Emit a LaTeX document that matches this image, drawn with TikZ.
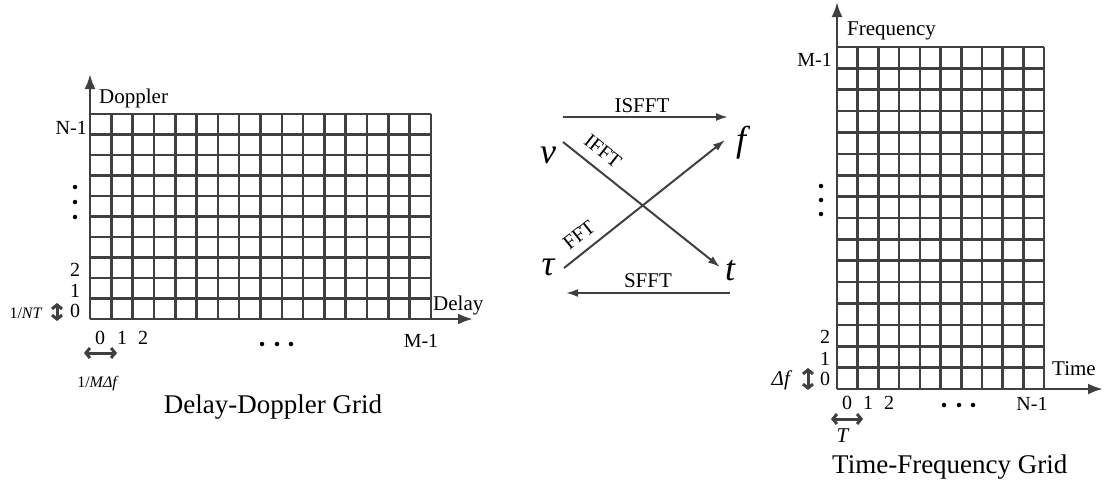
\documentclass[tikz,border=0pt]{standalone}
\usepackage{fontspec}
\setmainfont{Liberation Serif}
\usetikzlibrary{arrows.meta}
\definecolor{ln}{HTML}{404040}
\begin{document}
\begin{tikzpicture}[x=1pt,y=-1pt,
  gridln/.style={draw=ln,line width=2.6pt},
  axis/.style={draw=ln,line width=2.6pt,-{Latex[length=15pt,width=11pt]}},
  lbl/.style={font=\fontsize{21}{24}\selectfont,inner sep=0pt},
  num/.style={font=\fontsize{20}{24}\selectfont,inner sep=0pt},
  ttl/.style={font=\fontsize{27}{30}\selectfont,inner sep=0pt},
  greek/.style={font=\fontsize{36}{38}\selectfont\itshape,inner sep=0pt},
  tlbl/.style={font=\fontsize{20}{22}\selectfont,inner sep=0pt},
  tr/.style={draw=ln,line width=2pt,-{Latex[length=12pt,width=8pt]}},
  dbl/.style={draw=ln,line width=3pt,{Straight Barb[length=4pt,width=10pt]}-{Straight Barb[length=4pt,width=10pt]}},
  dot/.style={circle,fill=black,inner sep=0pt,minimum size=4.5pt},
  small/.style={font=\fontsize{16}{18}\selectfont,inner sep=0pt}]
\useasboundingbox (0,0) rectangle (1104,485);

% ---------- Left grid (Delay-Doppler) ----------
\foreach \i in {0,...,16} \draw[gridln] ({90+\i*21.3125},114) -- ({90+\i*21.3125},319);
\foreach \j in {0,...,10} \draw[gridln] (90,{114+\j*20.5}) -- (431,{114+\j*20.5});
\coordinate (Lo) at (90,319);
\coordinate (Lx) at (473,319);
\coordinate (Ly) at (90,74);
\draw[axis] (Lo) -- (Lx);
\draw[axis] (Lo) -- (Ly);

\node[lbl,anchor=base west] (dopl) at (99,103) {Doppler};
\node[lbl,anchor=base west] (dell) at (433,310) {Delay};
\node[num,anchor=base east] (ln1) at (87,134) {N-1};
\node[num,anchor=base] (l2) at (75,276) {2};
\node[num,anchor=base] (l1) at (75,297) {1};
\node[num,anchor=base] (l0) at (75,317) {0};
\node[dot] (lv1) at (75,187) {};
\node[dot] (lv2) at (75,202) {};
\node[dot] (lv3) at (75,217) {};
\node[small,anchor=base] (lnt) at (26,318) {1/\textit{NT}};
\coordinate (lda) at (57,303);
\coordinate (ldb) at (57,321);
\draw[dbl] (lda) -- (ldb);

\node[num,anchor=base] (b0) at (100,344) {0};
\node[num,anchor=base] (b1) at (122,344) {1};
\node[num,anchor=base] (b2) at (143,344) {2};
\node[dot] (lh1) at (262,344) {};
\node[dot] (lh2) at (277,344) {};
\node[dot] (lh3) at (291,344) {};
\node[num,anchor=base] (bm1) at (421,347) {M-1};
\coordinate (lha) at (84,353);
\coordinate (lhb) at (117,353);
\draw[dbl] (lha) -- (lhb);
\node[small,anchor=base] (lmdf) at (98,387) {1/\textit{MΔf}};
\node[ttl,anchor=base] (ddg) at (273,413) {Delay-Doppler Grid};

% ---------- Middle transforms ----------
\node[greek,anchor=base] (nu) at (548,163) {ν};
\node[greek,anchor=base] (fr) at (741,151) {f};
\node[greek,anchor=base] (tau) at (548,275) {τ};
\node[greek,anchor=base] (tt) at (730,280) {t};

\coordinate (isa) at (563,117);
\coordinate (isb) at (728,117);
\draw[tr] (isa) -- (isb);
\node[lbl,anchor=base] (isl) at (642,112) {ISFFT};

\coordinate (sfa) at (730,293);
\coordinate (sfb) at (566,293);
\draw[tr] (sfa) -- (sfb);
\node[lbl,anchor=base] (sfl) at (648,287) {SFFT};

\coordinate (ifa) at (563,142);
\coordinate (ifb) at (720,267);
\draw[tr] (ifa) -- (ifb);
\node[tlbl,rotate=-38.5] (ifl) at (603,151) {IFFT};

\coordinate (ffa) at (564,268);
\coordinate (ffb) at (725,140);
\draw[tr] (ffa) -- (ffb);
\node[tlbl,rotate=38.5] (ffl) at (579,235) {FFT};

% ---------- Right grid (Time-Frequency) ----------
\foreach \i in {0,...,10} \draw[gridln] ({837+\i*20.7},47) -- ({837+\i*20.7},389);
\foreach \j in {0,...,16} \draw[gridln] (837,{47+\j*21.375}) -- (1044,{47+\j*21.375});
\coordinate (Ro) at (837,389);
\coordinate (Rx) at (1103,389);
\coordinate (Ry) at (837,2);
\draw[axis] (Ro) -- (Rx);
\draw[axis] (Ro) -- (Ry);

\node[lbl,anchor=base west] (freq) at (847,35) {Frequency};
\node[lbl,anchor=base west] (time) at (1052,375) {Time};
\node[num,anchor=base east] (rm1) at (832,66) {M-1};
\node[num,anchor=base] (r2) at (825,343) {2};
\node[num,anchor=base] (r1) at (825,365) {1};
\node[num,anchor=base] (r0) at (825,385) {0};
\node[dot] (rv1) at (821,186) {};
\node[dot] (rv2) at (821,200) {};
\node[dot] (rv3) at (821,214) {};
\node[lbl,anchor=base] (rdf) at (782,385) {\textit{Δf}};
\coordinate (rda) at (808,368);
\coordinate (rdb) at (808,390);
\draw[dbl] (rda) -- (rdb);

\node[num,anchor=base] (c0) at (847,409) {0};
\node[num,anchor=base] (c1) at (868,409) {1};
\node[num,anchor=base] (c2) at (889,409) {2};
\node[dot] (rh1) at (944,405) {};
\node[dot] (rh2) at (959,405) {};
\node[dot] (rh3) at (973,405) {};
\node[num,anchor=base] (cn1) at (1032,410) {N-1};
\coordinate (rha) at (831,419);
\coordinate (rhb) at (863,419);
\draw[dbl] (rha) -- (rhb);
\node[lbl,anchor=base] (tl) at (843,442) {\textit{T}};
\node[ttl,anchor=base west] (tfg) at (832,473) {Time-Frequency Grid};
\end{tikzpicture}
\end{document}
